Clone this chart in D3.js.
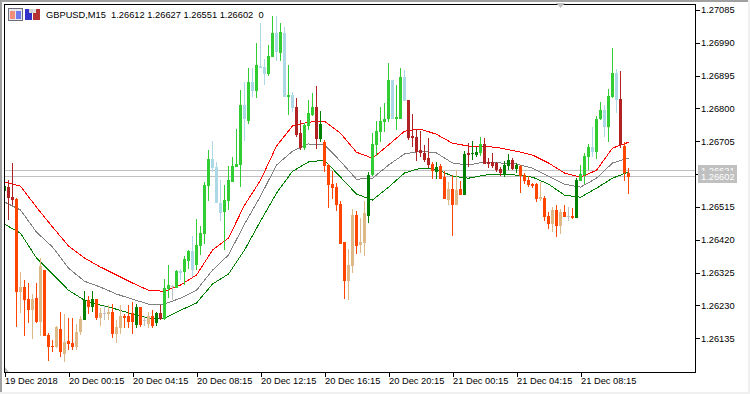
<!DOCTYPE html>
<html>
<head>
<meta charset="utf-8">
<style>
  html, body { margin: 0; padding: 0; background: #fff; }
  svg { display: block; }
  text { font-family: "Liberation Sans", Arial, sans-serif; font-size: 9.3px; fill: #000; }
  .tick line, .frame { shape-rendering: crispEdges; }
</style>
<script src="https://cdn.jsdelivr.net/npm/d3@7"></script>
</head>
<body>
<div id="chart"></div>
<script>
// ============================================================
//  Data: GBPUSD M15, one entry per bar
// ============================================================

const opens = [
  1.26561,1.26572,1.26543,1.26538,1.26269,1.26283,1.26248,1.26216,1.26251,1.26182,
  1.26332,1.26144,1.26112,1.26109,1.26162,1.26089,1.26127,1.26121,1.26109,1.26153,
  1.26188,1.26245,1.26225,1.26248,1.26193,1.26208,1.26205,1.26211,1.26147,1.26164,
  1.26199,1.26199,1.26208,1.26173,1.26225,1.26188,1.26176,1.26199,1.26179,1.26208,
  1.26190,1.26277,1.26286,1.26280,1.26329,1.26326,1.26358,1.26387,1.26347,1.26402,
  1.26436,1.26575,1.26653,1.26630,1.26526,1.26500,1.26532,1.26587,1.26630,1.26636,
  1.26809,1.26763,1.26876,1.26850,1.26922,1.26919,1.26899,1.26948,1.27018,1.26960,
  1.27018,1.26832,1.26838,1.26804,1.26728,1.26685,1.26749,1.26780,1.26804,1.26711,
  1.26702,1.26636,1.26581,1.26572,1.26523,1.26413,1.26300,1.26344,1.26491,1.26405,
  1.26410,1.26488,1.26607,1.26694,1.26731,1.26760,1.26769,1.26882,1.26769,1.26769,
  1.26890,1.26824,1.26720,1.26717,1.26679,1.26671,1.26656,1.26639,1.26616,1.26633,
  1.26601,1.26535,1.26567,1.26520,1.26567,1.26549,1.26671,1.26668,1.26665,1.26671,
  1.26697,1.26645,1.26645,1.26642,1.26624,1.26610,1.26633,1.26650,1.26624,1.26633,
  1.26607,1.26592,1.26581,1.26581,1.26538,1.26540,1.26488,1.26465,1.26506,1.26459,
  1.26500,1.26488,1.26488,1.26483,1.26590,1.26607,1.26659,1.26688,1.26673,1.26769,
  1.26795,1.26746,1.26832,1.26902,1.26827,1.26691,1.26612
];

const highs = [
  1.26584,1.26592,1.26642,1.26540,1.26326,1.26303,1.26295,1.26263,1.26295,1.26367,
  1.26332,1.26150,1.26130,1.26170,1.26211,1.26205,1.26193,1.26193,1.26176,1.26199,
  1.26271,1.26257,1.26271,1.26248,1.26222,1.26231,1.26231,1.26234,1.26188,1.26231,
  1.26205,1.26231,1.26240,1.26234,1.26225,1.26199,1.26211,1.26216,1.26211,1.26231,
  1.26306,1.26347,1.26289,1.26332,1.26335,1.26373,1.26390,1.26431,1.26480,1.26459,
  1.26587,1.26679,1.26705,1.26645,1.26592,1.26578,1.26633,1.26659,1.26740,1.26853,
  1.26876,1.26916,1.26916,1.26989,1.27046,1.26942,1.26983,1.27067,1.27067,1.27046,
  1.27035,1.26925,1.26847,1.26830,1.26766,1.26757,1.26824,1.26844,1.26864,1.26792,
  1.26708,1.26639,1.26618,1.26584,1.26532,1.26413,1.26393,1.26509,1.26503,1.26483,
  1.26532,1.26616,1.26728,1.26763,1.26804,1.26815,1.26931,1.26882,1.26867,1.26916,
  1.26911,1.26824,1.26783,1.26740,1.26734,1.26694,1.26714,1.26645,1.26645,1.26639,
  1.26618,1.26587,1.26607,1.26621,1.26590,1.26676,1.26699,1.26705,1.26688,1.26717,
  1.26714,1.26656,1.26671,1.26645,1.26630,1.26647,1.26668,1.26656,1.26642,1.26636,
  1.26613,1.26604,1.26584,1.26584,1.26587,1.26546,1.26500,1.26514,1.26520,1.26509,
  1.26520,1.26514,1.26511,1.26598,1.26636,1.26671,1.26697,1.26746,1.26778,1.26818,
  1.26809,1.26856,1.26974,1.26913,1.26908,1.26702,1.26627
];

const lows = [
  1.26558,1.26477,1.26520,1.26167,1.26208,1.26141,1.26179,1.26133,1.26179,1.26141,
  1.26141,1.26069,1.26095,1.26107,1.26081,1.26066,1.26101,1.26101,1.26101,1.26144,
  1.26188,1.26205,1.26211,1.26188,1.26170,1.26188,1.26188,1.26136,1.26121,1.26147,
  1.26164,1.26164,1.26147,1.26164,1.26167,1.26170,1.26164,1.26164,1.26170,1.26188,
  1.26188,1.26251,1.26245,1.26280,1.26303,1.26289,1.26335,1.26312,1.26332,1.26376,
  1.26407,1.26532,1.26616,1.26526,1.26474,1.26390,1.26506,1.26587,1.26630,1.26572,
  1.26705,1.26754,1.26832,1.26830,1.26916,1.26867,1.26893,1.26948,1.26937,1.26937,
  1.26832,1.26780,1.26789,1.26717,1.26679,1.26679,1.26737,1.26778,1.26682,1.26702,
  1.26616,1.26511,1.26538,1.26503,1.26407,1.26248,1.26245,1.26324,1.26379,1.26381,
  1.26373,1.26468,1.26604,1.26662,1.26702,1.26731,1.26760,1.26769,1.26737,1.26769,
  1.26821,1.26708,1.26688,1.26647,1.26659,1.26645,1.26627,1.26595,1.26595,1.26595,
  1.26538,1.26520,1.26431,1.26520,1.26549,1.26549,1.26630,1.26650,1.26659,1.26662,
  1.26639,1.26627,1.26627,1.26616,1.26604,1.26601,1.26621,1.26621,1.26613,1.26555,
  1.26581,1.26572,1.26569,1.26529,1.26532,1.26474,1.26451,1.26442,1.26428,1.26436,
  1.26485,1.26474,1.26480,1.26483,1.26590,1.26581,1.26621,1.26659,1.26653,1.26766,
  1.26717,1.26702,1.26830,1.26786,1.26685,1.26590,1.26551
];

const closes = [
  1.26575,1.26540,1.26535,1.26269,1.26283,1.26245,1.26216,1.26248,1.26182,1.26344,
  1.26141,1.26109,1.26109,1.26167,1.26095,1.26124,1.26118,1.26109,1.26153,1.26190,
  1.26245,1.26225,1.26248,1.26193,1.26208,1.26208,1.26211,1.26147,1.26167,1.26199,
  1.26193,1.26182,1.26182,1.26225,1.26173,1.26188,1.26199,1.26170,1.26208,1.26190,
  1.26280,1.26289,1.26286,1.26329,1.26324,1.26364,1.26387,1.26332,1.26405,1.26439,
  1.26578,1.26653,1.26627,1.26526,1.26497,1.26535,1.26592,1.26633,1.26639,1.26809,
  1.26769,1.26876,1.26850,1.26925,1.26916,1.26899,1.26951,1.27018,1.26963,1.27020,
  1.26832,1.26838,1.26801,1.26723,1.26685,1.26752,1.26786,1.26804,1.26711,1.26754,
  1.26633,1.26578,1.26569,1.26520,1.26407,1.26300,1.26347,1.26491,1.26402,1.26413,
  1.26497,1.26607,1.26697,1.26734,1.26763,1.26769,1.26882,1.26769,1.26775,1.26890,
  1.26821,1.26714,1.26714,1.26673,1.26671,1.26650,1.26636,1.26618,1.26630,1.26595,
  1.26538,1.26567,1.26520,1.26564,1.26549,1.26668,1.26665,1.26671,1.26673,1.26697,
  1.26639,1.26639,1.26633,1.26621,1.26613,1.26636,1.26650,1.26624,1.26636,1.26604,
  1.26590,1.26578,1.26575,1.26538,1.26543,1.26485,1.26465,1.26506,1.26459,1.26500,
  1.26485,1.26488,1.26483,1.26592,1.26610,1.26662,1.26688,1.26673,1.26769,1.26795,
  1.26746,1.26835,1.26902,1.26824,1.26694,1.26613,1.26602
];

// h = above the channel, m = inside it, l = below it
const zones = (
  'mmmlllllll' + 'llllllllll' + 'mlmlllllll' + 'lllmllllmm' +
  'hhhhhhhhhh' + 'hhhhhhhhhh' + 'hhhhhhhhhh' + 'hhhmmhhhmm' +
  'llllllllll' + 'lmhhhhhhhh' + 'hmmmmmmlml' + 'lllllmmmmh' +
  'mmmmmmmmml' + 'llllllllll' + 'lllmhhhhhh' + 'hhhhmll'
).split('');

// Channel lines, read every fourth bar
const upperBand = [
  1.26587,1.26575,1.26514,1.26457,1.26402,1.26367,1.26341,1.26318,1.26295,1.26274,
  1.26271,1.26289,1.26318,1.26390,1.26425,1.26520,1.26592,1.26691,1.26749,1.26760,
  1.26763,1.26728,1.26673,1.26656,1.26694,1.26734,1.26740,1.26725,1.26699,1.26691,
  1.26691,1.26685,1.26676,1.26665,1.26642,1.26613,1.26601,1.26621,1.26685,1.26702
];
const middleBand = [
  1.26529,1.26506,1.26442,1.26399,1.26338,1.26300,1.26283,1.26263,1.26248,1.26234,
  1.26234,1.26251,1.26274,1.26332,1.26376,1.26465,1.26546,1.26636,1.26676,1.26697,
  1.26694,1.26647,1.26595,1.26598,1.26636,1.26668,1.26676,1.26671,1.26642,1.26636,
  1.26645,1.26642,1.26639,1.26627,1.26604,1.26581,1.26572,1.26598,1.26642,1.26656
];
const lowerBand = [
  1.26465,1.26439,1.26367,1.26321,1.26274,1.26245,1.26231,1.26219,1.26205,1.26193,
  1.26193,1.26216,1.26237,1.26292,1.26321,1.26390,1.26474,1.26555,1.26618,1.26645,
  1.26650,1.26601,1.26552,1.26535,1.26572,1.26613,1.26627,1.26624,1.26604,1.26598,
  1.26607,1.26610,1.26607,1.26601,1.26581,1.26549,1.26543,1.26569,1.26598,1.26616
];

const priceTicks = [1.27085, 1.26990, 1.26895, 1.26800, 1.26705, 1.26610, 1.26515, 1.26420, 1.26325, 1.26230, 1.26135];
const timeTicks = [0, 16, 32, 48, 64, 80, 96, 112, 128, 144];
const timeLabels = ['19 Dec 2018', '20 Dec 00:15', '20 Dec 04:15', '20 Dec 08:15', '20 Dec 12:15',
  '20 Dec 16:15', '20 Dec 20:15', '21 Dec 00:15', '21 Dec 04:15', '21 Dec 08:15'];

const askPrice = 1.26621;
const bidPrice = 1.26602;
const header = 'GBPUSD,M15  1.26612 1.26627 1.26551 1.26602  0';

// ============================================================
//  Layout & scales
// ============================================================

const width = 750, height = 394;
const plot = { left: 4.5, right: 695.5, top: 4.5, bottom: 372.5 };
const bars = d3.range(opens.length);

const x = d3.scaleLinear().domain([0, 156]).range([4.5, 628.5]);
const y = d3.scaleLinear().domain([1.26135, 1.27085]).range([338.3, 9.8]);

const palette = {
  h: { up: '#32CD32', down: '#ADD8E6' },
  m: { up: '#008000', down: '#B22222' },
  l: { up: '#DEB887', down: '#FF4500' },
  flat: '#C0C0C0',
};

function barColor(i) {
  if (opens[i] === closes[i]) return palette.flat;
  return palette[zones[i]][closes[i] > opens[i] ? 'up' : 'down'];
}

const svg = d3.select('#chart').append('svg')
  .attr('width', width).attr('height', height)
  .attr('viewBox', `0 0 ${width} ${height}`);

// Window edge
svg.append('rect').attr('width', width).attr('height', height).attr('fill', '#fff');
svg.append('rect').attr('class', 'frame').attr('width', width).attr('height', 2).attr('fill', '#A0A0A0');
svg.append('rect').attr('class', 'frame').attr('width', 2).attr('height', height).attr('fill', '#A0A0A0');
svg.append('rect').attr('class', 'frame').attr('y', 392).attr('width', width).attr('height', 2).attr('fill', '#F0F0F0');
svg.append('rect').attr('class', 'frame').attr('x', 748).attr('width', 2).attr('height', height).attr('fill', '#F0F0F0');

svg.append('clipPath').attr('id', 'plot-clip').append('rect')
  .attr('x', plot.left).attr('y', plot.top)
  .attr('width', plot.right - plot.left).attr('height', plot.bottom - plot.top);

const g = svg.append('g').attr('clip-path', 'url(#plot-clip)');

// ============================================================
//  Bid / ask lines, channel, candles (candles sit on top)
// ============================================================

g.selectAll('.quote').data([askPrice, bidPrice]).join('line')
  .attr('class', 'quote frame')
  .attr('x1', plot.left).attr('x2', plot.right)
  .attr('y1', d => Math.floor(y(d)) + 0.5).attr('y2', d => Math.floor(y(d)) + 0.5)
  .attr('stroke', '#C0C0C0');

const bandLine = d3.line().x((d, i) => x(i * 4)).y(d => y(d));
[[upperBand, '#FF0000'], [middleBand, '#808080'], [lowerBand, '#008000']].forEach(([band, color]) => {
  g.append('path').datum(band)
    .attr('d', bandLine)
    .attr('fill', 'none').attr('stroke', color).attr('stroke-width', 1)
    .attr('shape-rendering', 'crispEdges');
});

const candles = g.selectAll('.candle').data(bars).join('g')
  .attr('class', 'candle frame')
  .attr('fill', barColor);

candles.append('rect')
  .attr('x', i => x(i) - 0.5).attr('width', 1)
  .attr('y', i => Math.round(y(highs[i])))
  .attr('height', i => Math.max(1, Math.round(y(lows[i])) - Math.round(y(highs[i]))));

candles.append('rect')
  .attr('x', i => x(i) - 1.5).attr('width', 3)
  .attr('y', i => Math.round(y(Math.max(opens[i], closes[i]))))
  .attr('height', i => Math.max(1, Math.round(y(Math.min(opens[i], closes[i]))) - Math.round(y(Math.max(opens[i], closes[i])))));

// ============================================================
//  Frame & axes
// ============================================================

svg.append('rect').attr('class', 'frame')
  .attr('x', plot.left).attr('y', plot.top)
  .attr('width', plot.right - plot.left).attr('height', plot.bottom - plot.top)
  .attr('fill', 'none').attr('stroke', '#000');

const yAxis = svg.append('g')
  .attr('transform', `translate(${plot.right},0)`)
  .call(d3.axisRight(y).tickValues(priceTicks).tickFormat(d3.format('.5f')).tickSize(4).tickPadding(1.5));
yAxis.select('.domain').remove();
yAxis.selectAll('.tick line').attr('stroke', '#000');
yAxis.selectAll('text').style('font-size', null).attr('font-family', null);

const xAxis = svg.append('g')
  .attr('transform', `translate(0,${plot.bottom})`)
  .call(d3.axisBottom(x).tickValues(timeTicks).tickFormat((d, i) => timeLabels[i]).tickSize(4).tickPadding(1));
xAxis.select('.domain').remove();
xAxis.selectAll('.tick line').attr('stroke', '#000');
xAxis.selectAll('text').attr('text-anchor', 'start').attr('x', 0);

// Price tags at the right edge
[askPrice, bidPrice].forEach(p => {
  const cy = Math.floor(y(p)) + 0.5;
  svg.append('rect').attr('class', 'frame')
    .attr('x', 698).attr('y', cy - 6).attr('width', 39).attr('height', 12)
    .attr('fill', '#C0C0C0');
  svg.append('text')
    .attr('x', 701).attr('y', cy + 3.5)
    .style('fill', '#fff')
    .text(d3.format('.5f')(p));
});

// Header with the toolbar icons
const icons = svg.append('g').attr('class', 'frame');
icons.append('rect').attr('x', 8.5).attr('y', 8.5).attr('width', 14).attr('height', 12)
  .attr('fill', '#E6E6F0').attr('stroke', '#6E6E78');
icons.append('rect').attr('x', 10).attr('y', 11).attr('width', 5).attr('height', 8).attr('fill', '#F08C78');
icons.append('rect').attr('x', 16).attr('y', 11).attr('width', 5).attr('height', 8).attr('fill', '#6E78F0');
icons.append('rect').attr('x', 25).attr('y', 9).attr('width', 7).attr('height', 11).attr('fill', '#3232C8');
icons.append('rect').attr('x', 29).attr('y', 9).attr('width', 4).attr('height', 4).attr('fill', '#D2D2D2');
icons.append('rect').attr('x', 33).attr('y', 9).attr('width', 7).attr('height', 11).attr('fill', '#B43232');
icons.append('rect').attr('x', 33).attr('y', 9).attr('width', 3).attr('height', 4).attr('fill', '#E0E0E0');

svg.append('text').attr('x', 46).attr('y', 18).attr('xml:space', 'preserve')
  .style('white-space', 'pre').text(header);

// Chart-shift marker and corner mark
svg.append('path').attr('d', 'M556,3 L565,3 L560.5,8 Z').attr('fill', '#C0C0C0');
svg.append('path').attr('d', 'M5,367 L9,372 L5,372 Z').attr('fill', '#C0C0C0');
</script>
</body>
</html>
